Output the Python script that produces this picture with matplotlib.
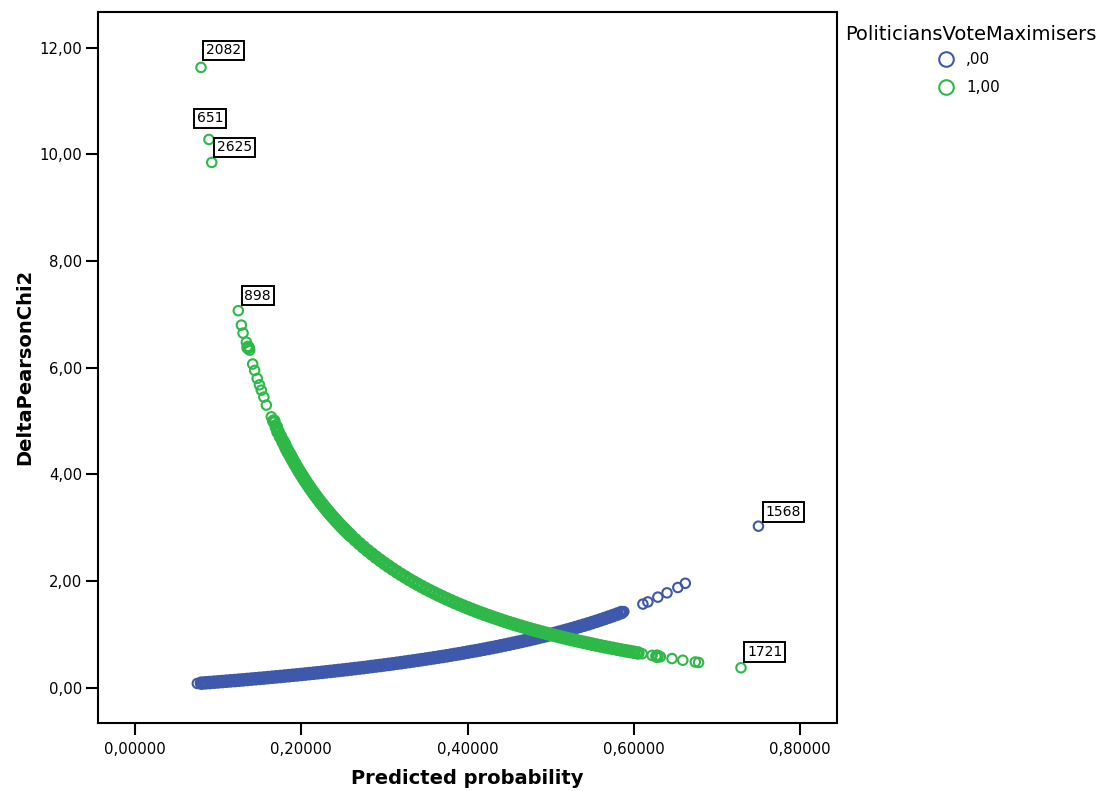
import matplotlib
matplotlib.use("Agg")
import matplotlib.pyplot as plt
from matplotlib.lines import Line2D
import numpy as np

plt.rcParams['font.family'] = ['DejaVu Sans']

# ---------------- data ----------------
# group ,00 (blue): predicted probability and DeltaPearsonChi2
blue_x = [0.075, 0.080, 0.085, 0.090, 0.095, 0.100, 0.105, 0.110, 0.115, 0.120,
          0.125, 0.130, 0.135, 0.140, 0.145, 0.150, 0.155, 0.160, 0.165, 0.170,
          0.175, 0.180, 0.185, 0.190, 0.195, 0.200, 0.205, 0.210, 0.215, 0.220,
          0.225, 0.230, 0.235, 0.240, 0.245, 0.250, 0.255, 0.260, 0.265, 0.270,
          0.275, 0.280, 0.285, 0.290, 0.295, 0.300, 0.305, 0.310, 0.315, 0.320,
          0.325, 0.330, 0.335, 0.340, 0.345, 0.350, 0.355, 0.360, 0.365, 0.370,
          0.375, 0.380, 0.385, 0.390, 0.395, 0.400, 0.405, 0.410, 0.415, 0.420,
          0.425, 0.430, 0.435, 0.440, 0.445, 0.450, 0.455, 0.460, 0.465, 0.470,
          0.475, 0.480, 0.485, 0.490, 0.495, 0.500, 0.505, 0.510, 0.515, 0.520,
          0.525, 0.530, 0.535, 0.540, 0.545, 0.550, 0.555, 0.560, 0.565, 0.570,
          0.575, 0.580, 0.585, 0.588,
          0.611, 0.617, 0.629, 0.640, 0.653, 0.662]
blue_y = [0.081, 0.087, 0.093, 0.099, 0.105, 0.111, 0.117, 0.124, 0.130, 0.136,
          0.143, 0.149, 0.156, 0.163, 0.170, 0.177, 0.183, 0.191, 0.198, 0.205,
          0.212, 0.220, 0.227, 0.235, 0.242, 0.250, 0.258, 0.266, 0.274, 0.282,
          0.290, 0.299, 0.307, 0.316, 0.325, 0.333, 0.342, 0.351, 0.361, 0.370,
          0.379, 0.389, 0.399, 0.409, 0.418, 0.429, 0.439, 0.449, 0.460, 0.471,
          0.482, 0.493, 0.504, 0.515, 0.527, 0.539, 0.550, 0.563, 0.575, 0.587,
          0.600, 0.613, 0.626, 0.639, 0.653, 0.667, 0.681, 0.695, 0.709, 0.724,
          0.739, 0.754, 0.770, 0.786, 0.802, 0.818, 0.835, 0.852, 0.869, 0.887,
          0.905, 0.923, 0.942, 0.961, 0.980, 1.000, 1.020, 1.041, 1.062, 1.083,
          1.105, 1.128, 1.151, 1.174, 1.198, 1.222, 1.247, 1.273, 1.299, 1.326,
          1.353, 1.381, 1.410, 1.428,
          1.57, 1.61, 1.70, 1.78, 1.88, 1.96]

# group 1,00 (green)
green_x = [0.128, 0.130, 0.134, 0.136, 0.138, 0.1416, 0.144, 0.147, 0.1497, 0.152,
           0.155, 0.158, 0.164, 0.167, 0.170, 0.172, 0.175, 0.178, 0.180, 0.182,
           0.184, 0.186, 0.188,
           0.190, 0.1925, 0.195, 0.1975, 0.200, 0.2025, 0.205, 0.2075, 0.210, 0.2125,
           0.215, 0.2175, 0.220, 0.2225, 0.225, 0.2275, 0.230, 0.2325, 0.235, 0.2375,
           0.240, 0.2425, 0.245, 0.2475, 0.250, 0.2525, 0.255, 0.2575, 0.260,
           0.265, 0.270, 0.275, 0.280, 0.285, 0.290, 0.295, 0.300, 0.305, 0.310,
           0.315, 0.320, 0.325, 0.330, 0.335, 0.340, 0.345, 0.350, 0.355, 0.360,
           0.365, 0.370, 0.375, 0.380, 0.385, 0.390, 0.395, 0.400, 0.405, 0.410,
           0.415, 0.420, 0.425, 0.430, 0.435, 0.440, 0.445, 0.450, 0.455, 0.460,
           0.465, 0.470, 0.475, 0.480, 0.485, 0.490, 0.495, 0.500, 0.505, 0.510,
           0.515, 0.520, 0.525, 0.530, 0.535, 0.540, 0.545, 0.550, 0.555, 0.560,
           0.565, 0.570, 0.575, 0.580, 0.585, 0.590, 0.595, 0.600, 0.605, 0.610,
           0.622, 0.628, 0.632, 0.646, 0.659, 0.674, 0.678]
green_y = [6.80, 6.65, 6.48, 6.38, 6.33, 6.07, 5.95, 5.80, 5.68, 5.58,
           5.45, 5.30, 5.08, 5.00, 4.89, 4.80, 4.71, 4.62, 4.56, 4.49,
           4.43, 4.38, 4.32,
           4.263, 4.195, 4.128, 4.063, 4.000, 3.938, 3.878, 3.819, 3.762, 3.706,
           3.651, 3.598, 3.545, 3.494, 3.444, 3.396, 3.348, 3.301, 3.255, 3.211,
           3.167, 3.124, 3.082, 3.040, 3.000, 2.960, 2.922, 2.883, 2.846,
           2.774, 2.704, 2.636, 2.571, 2.509, 2.448, 2.390, 2.333, 2.279, 2.226,
           2.175, 2.125, 2.077, 2.030, 1.985, 1.941, 1.899, 1.857, 1.817, 1.778,
           1.740, 1.703, 1.667, 1.632, 1.597, 1.564, 1.532, 1.500, 1.469, 1.439,
           1.410, 1.381, 1.353, 1.326, 1.299, 1.273, 1.247, 1.222, 1.198, 1.174,
           1.151, 1.128, 1.105, 1.083, 1.062, 1.041, 1.020, 1.000, 0.980, 0.961,
           0.942, 0.923, 0.905, 0.887, 0.869, 0.852, 0.835, 0.818, 0.802, 0.786,
           0.770, 0.754, 0.739, 0.724, 0.709, 0.695, 0.681, 0.667, 0.653, 0.639,
           0.608, 0.592, 0.582, 0.548, 0.517, 0.484, 0.475]

# labelled cases
case_ids = ['2082', '651', '2625', '898', '1568', '1721']
case_x = [0.0794, 0.0890, 0.0923, 0.1243, 0.750, 0.729]
case_y = [11.63, 10.28, 9.85, 7.07, 3.03, 0.375]
case_group = [1, 1, 1, 1, 0, 1]

x_ticks = [0.0, 0.2, 0.4, 0.6, 0.8]
x_ticklabels = ['0,00000', '0,20000', '0,40000', '0,60000', '0,80000']
y_ticks = [0, 2, 4, 6, 8, 10, 12]
y_ticklabels = ['0,00', '2,00', '4,00', '6,00', '8,00', '10,00', '12,00']
legend_title = 'PoliticiansVoteMaximisers'
group_labels = [',00', '1,00']

# ---------------- styling ----------------
BLUE = '#3E58AC'
GREEN = '#2EB848'
colors = [BLUE, GREEN]
MS = 6.8          # ring diameter (points)
LW_THIN = 1.5     # isolated rings
LW_THICK = 3.0    # rings packed in the dense band
# label box offsets in pixels (lower-left of box relative to the point)
label_offsets = [(1, 6), (-16, 10), (1, 4), (2, 4), (3, 3), (2, 5)]

W, H = 1100, 791
fig = plt.figure(figsize=(W / 100, H / 100), dpi=100)
ax = fig.add_axes([98 / W, (H - 723) / H, (837 - 98) / W, (723 - 12) / H])
ax.set_xlim(-0.0445, 0.8445)
ax.set_ylim(-0.66, 12.67)


def ring_widths(xs, ys):
    pts = ax.transData.transform(np.column_stack([xs, ys]))
    d = np.hypot(*np.diff(pts, axis=0).T)
    prev_d = np.concatenate([[np.inf], d])
    next_d = np.concatenate([d, [np.inf]])
    dense = np.maximum(prev_d, next_d) < 6.5
    return np.where(dense, LW_THICK, LW_THIN)


for xs, ys, col in [(blue_x, blue_y, BLUE), (green_x, green_y, GREEN)]:
    ax.scatter(xs, ys, s=MS ** 2, facecolors='none', edgecolors=col,
               linewidths=ring_widths(xs, ys), zorder=3)
for cx, cy, cg in zip(case_x, case_y, case_group):
    ax.scatter([cx], [cy], s=MS ** 2, facecolors='none', edgecolors=colors[cg],
               linewidths=LW_THIN, zorder=3)

PAD_PX = 3
for cid, cx, cy, (ox, oy) in zip(case_ids, case_x, case_y, label_offsets):
    ax.annotate(cid, (cx, cy), xytext=(ox + PAD_PX + 1, oy + PAD_PX + 1),
                textcoords='offset pixels', ha='left', va='bottom',
                fontsize=10, color='black', zorder=5,
                bbox=dict(boxstyle='square,pad=0.2', fc='white', ec='black', lw=1.4))

ax.set_xticks(x_ticks)
ax.set_xticklabels(x_ticklabels)
ax.set_yticks(y_ticks)
ax.set_yticklabels(y_ticklabels)
ax.tick_params(axis='both', direction='out', length=8.5, width=1.5,
               labelsize=10.7, colors='black')
ax.tick_params(axis='x', pad=5)
ax.tick_params(axis='y', pad=3)
for sp in ax.spines.values():
    sp.set_linewidth(1.5)
    sp.set_color('black')

fig.text(467.5 / W, (H - 784) / H, 'Predicted probability', ha='center',
         va='baseline', fontsize=14, fontweight='bold')
fig.text(25 / W, (H - 367) / H, 'DeltaPearsonChi2', ha='center', va='center',
         rotation=90, fontsize=14, fontweight='bold')

# legend drawn in figure pixel positions
fig.text(845 / W, (H - 40) / H, legend_title, ha='left', va='baseline',
         fontsize=14)
legend_rows_y = [59, 87]
for lab, col, ry in zip(group_labels, colors, legend_rows_y):
    fig.add_artist(Line2D([946 / W], [(H - ry) / H], transform=fig.transFigure,
                          linestyle='none', marker='o', ms=10.5, mew=1.5,
                          mfc='none', mec=col))
    fig.text(966 / W, (H - ry) / H, lab, ha='left', va='center', fontsize=11)

fig.savefig('out.png', dpi=100)
